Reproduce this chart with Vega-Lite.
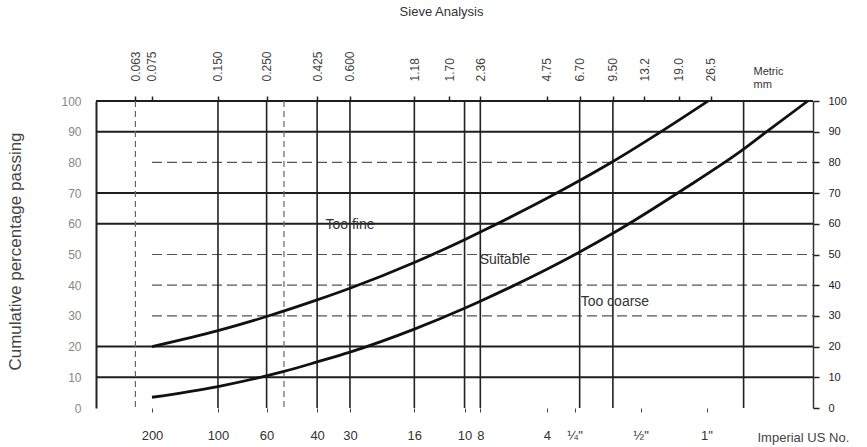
{
  "$schema": "https://vega.github.io/schema/vega-lite/v6.json",
  "width": 717,
  "height": 307,
  "autosize": "none",
  "padding": {"left": 96, "top": 101, "right": 54, "bottom": 39},
  "config": {"view": {"stroke": null}, "font": "Liberation Sans"},
  "title": {"text": "Sieve Analysis", "fontSize": 13, "fontWeight": "normal", "color": "#333", "anchor": "middle", "dx": -13, "offset": 32},
  "datasets": {
    "hSolid": [{"pct": 100}, {"pct": 90}, {"pct": 70}, {"pct": 60}, {"pct": 20}, {"pct": 10}],
    "hDashed": [{"pct": 80}, {"pct": 50}, {"pct": 40}, {"pct": 30}],
    "vSolid": [{"mm": 0.15}, {"mm": 0.25}, {"mm": 0.425}, {"mm": 0.6}, {"mm": 1.18}, {"mm": 2.0}, {"mm": 2.36}, {"mm": 6.7}, {"mm": 9.5}, {"mm": 37.5}],
    "vLight": [{"mm": 0.063}, {"mm": 0.3}],
    "curves": [
      {"limit": "fine", "mm": 0.075, "pct": 20},
      {"limit": "fine", "mm": 0.15, "pct": 25.2},
      {"limit": "fine", "mm": 0.25, "pct": 29.8},
      {"limit": "fine", "mm": 0.425, "pct": 35.2},
      {"limit": "fine", "mm": 0.6, "pct": 39},
      {"limit": "fine", "mm": 1.18, "pct": 47.4},
      {"limit": "fine", "mm": 2.0, "pct": 54.8},
      {"limit": "fine", "mm": 2.36, "pct": 57.3},
      {"limit": "fine", "mm": 4.75, "pct": 68.3},
      {"limit": "fine", "mm": 6.7, "pct": 74.1},
      {"limit": "fine", "mm": 9.5, "pct": 80.3},
      {"limit": "fine", "mm": 15.9, "pct": 90.2},
      {"limit": "fine", "mm": 25.8, "pct": 100},
      {"limit": "coarse", "mm": 0.075, "pct": 3.5},
      {"limit": "coarse", "mm": 0.15, "pct": 7.0},
      {"limit": "coarse", "mm": 0.3, "pct": 11.9},
      {"limit": "coarse", "mm": 0.425, "pct": 15.0},
      {"limit": "coarse", "mm": 0.6, "pct": 18.2},
      {"limit": "coarse", "mm": 1.18, "pct": 25.7},
      {"limit": "coarse", "mm": 2.0, "pct": 32.5},
      {"limit": "coarse", "mm": 2.36, "pct": 34.8},
      {"limit": "coarse", "mm": 4.75, "pct": 45.2},
      {"limit": "coarse", "mm": 6.7, "pct": 50.8},
      {"limit": "coarse", "mm": 9.5, "pct": 56.9},
      {"limit": "coarse", "mm": 19.8, "pct": 71.1},
      {"limit": "coarse", "mm": 37.5, "pct": 84.3},
      {"limit": "coarse", "mm": 46.8, "pct": 89.5},
      {"limit": "coarse", "mm": 73.6, "pct": 100}
    ],
    "notes": [
      {"mm": 0.6, "pct": 59.6, "label": "Too fine"},
      {"mm": 3.06, "pct": 48.2, "label": "Suitable"},
      {"mm": 9.7, "pct": 34.5, "label": "Too coarse"}
    ]
  },
  "layer": [
    {
      "data": {"name": "hSolid"},
      "mark": {"type": "rule", "color": "#1e1e1e", "strokeWidth": 2},
      "encoding": {
        "y": {
          "field": "pct", "type": "quantitative",
          "scale": {"domain": [0, 100], "nice": false, "zero": false},
          "axis": {
            "orient": "left", "values": [0, 10, 20, 30, 40, 50, 60, 70, 80, 90, 100],
            "grid": false, "ticks": false, "domain": true, "domainColor": "#222", "domainWidth": 2,
            "labelPadding": 15, "labelFontSize": 12, "labelColor": "#888",
            "title": "Cumulative percentage passing", "titleFontSize": 17, "titleFontWeight": "normal",
            "titleColor": "#444", "titleX": -81, "titleY": 150, "titleAlign": "center", "titleBaseline": "middle"
          }
        }
      }
    },
    {
      "data": {"name": "hDashed"},
      "mark": {"type": "rule", "color": "#555", "strokeWidth": 1.2, "strokeDash": [10, 5]},
      "encoding": {
        "x": {"datum": 0.075, "type": "quantitative", "axis": null},
        "x2": {"datum": 77.74},
        "y": {
          "field": "pct", "type": "quantitative",
          "axis": {
            "orient": "right", "values": [0, 10, 20, 30, 40, 50, 60, 70, 80, 90, 100],
            "grid": false, "tickSize": 6, "tickColor": "#222", "tickWidth": 1.5,
            "domain": true, "domainColor": "#333", "domainWidth": 1.5,
            "labelPadding": 9, "labelFontSize": 11, "labelColor": "#222", "title": null
          }
        }
      }
    },
    {
      "data": {"name": "vSolid"},
      "mark": {"type": "rule", "color": "#222", "strokeWidth": 1.6},
      "encoding": {
        "x": {
          "field": "mm", "type": "quantitative",
          "scale": {"type": "log", "domain": [0.04165, 77.74], "nice": false},
          "axis": {
            "orient": "top",
            "values": [0.063, 0.075, 0.15, 0.25, 0.425, 0.6, 1.18, 1.7, 2.36, 4.75, 6.7, 9.5, 13.2, 19, 26.5],
            "labelExpr": "datum.value < 1 ? format(datum.value, '.3f') : datum.value < 10 ? format(datum.value, '.2f') : format(datum.value, '.1f')",
            "labelAngle": 270, "labelFontSize": 12, "labelColor": "#444", "labelOverlap": false, "labelFlush": false,
            "tickSize": 5, "tickColor": "#222", "tickWidth": 1.5, "domain": false, "grid": false, "labelPadding": 15,
            "title": ["Metric", "mm"], "titleX": 657, "titleY": -36, "titleAlign": "left", "titleBaseline": "top",
            "titleAngle": 0, "titleFontSize": 11, "titleFontWeight": "normal", "titleColor": "#333", "titleLineHeight": 13
          }
        }
      }
    },
    {
      "data": {"name": "vLight"},
      "mark": {"type": "rule", "color": "#666", "strokeWidth": 1.2, "strokeDash": [6, 4]},
      "encoding": {
        "x": {
          "field": "mm", "type": "quantitative",
          "axis": {
            "orient": "bottom",
            "values": [0.075, 0.15, 0.25, 0.425, 0.6, 1.18, 2, 2.36, 4.75, 6.35, 12.7, 25.4],
            "labelExpr": "datum.value == 0.075 ? '200' : datum.value == 0.15 ? '100' : datum.value == 0.25 ? '60' : datum.value == 0.425 ? '40' : datum.value == 0.6 ? '30' : datum.value == 1.18 ? '16' : datum.value == 2 ? '10' : datum.value == 2.36 ? '8' : datum.value == 4.75 ? '4' : datum.value == 6.35 ? '¼\"' : datum.value == 12.7 ? '½\"' : '1\"'",
            "labelAngle": 0, "labelFontSize": 13, "labelColor": "#333", "labelOverlap": false, "labelFlush": false,
            "tickSize": 4, "tickColor": "#444", "domain": false, "grid": false, "labelPadding": 17,
            "title": "Imperial US No.", "titleX": 661, "titleY": 23, "titleAlign": "left", "titleBaseline": "top",
            "titleFontSize": 13, "titleFontWeight": "normal", "titleColor": "#444"
          }
        }
      }
    },
    {
      "data": {"name": "curves"},
      "mark": {"type": "line", "color": "#111", "strokeWidth": 2.8, "interpolate": "monotone"},
      "encoding": {
        "x": {"field": "mm", "type": "quantitative", "axis": null},
        "y": {"field": "pct", "type": "quantitative", "axis": null},
        "detail": {"field": "limit"}
      }
    },
    {
      "data": {"name": "notes"},
      "mark": {"type": "text", "fontSize": 14, "color": "#333"},
      "encoding": {
        "x": {"field": "mm", "type": "quantitative", "axis": null},
        "y": {"field": "pct", "type": "quantitative", "axis": null},
        "text": {"field": "label"}
      }
    }
  ]
}
